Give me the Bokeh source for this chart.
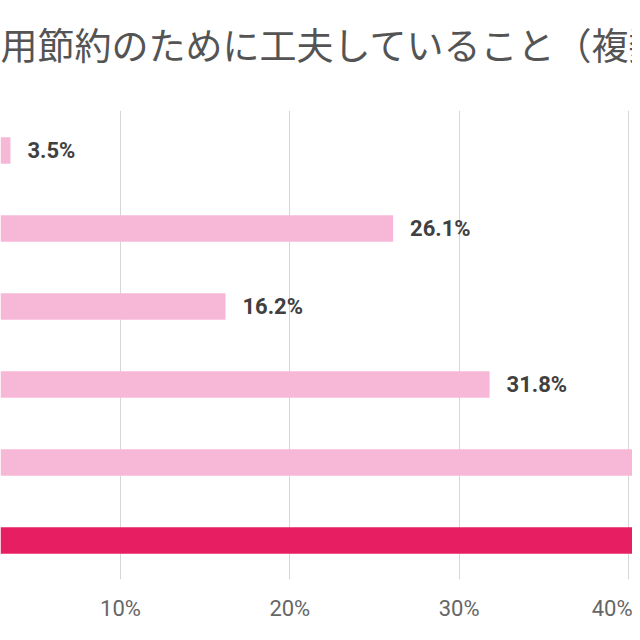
from bokeh.plotting import figure
from bokeh.models import Range1d, FixedTicker, PrintfTickFormatter, ColumnDataSource, Title
from bokeh.core.properties import value
from bokeh.embed import file_html
from bokeh.resources import INLINE

# ---- data ----
title_text = "用節約のために工夫していること（複数"
values = [3.5, 26.1, 16.2, 31.8, 44.0, 55.0]   # last two run past the visible edge
value_labels = [f"{v:.1f}%" for v in values]
positions = list(range(len(values)))             # top to bottom
highlight_index = 5
tick_values = [10, 20, 30, 40]

LIGHT = "#F7B8D8"
DARK = "#E81E62"
colors = [DARK if i == highlight_index else LIGHT for i in positions]

src = ColumnDataSource(dict(y=positions, v=values, lab=value_labels, c=colors))

NARROW = "'Liberation Sans Narrow', 'Roboto', 'Liberation Sans', sans-serif"

p = figure(width=632, height=632,
           x_range=Range1d(2.912, 40.24), y_range=Range1d(5.5, -0.513),
           output_backend="svg", toolbar_location=None,
           y_axis_location=None, title_location=None,
           min_border_top=110, min_border_bottom=53,
           min_border_left=0, min_border_right=0)
p.outline_line_color = None
p.background_fill_color = "white"
p.border_fill_color = "white"

# spacer between the title and the plot frame (nearest the frame)
p.add_layout(Title(text=" ", text_font_size="1px", standoff=35), "above")
# the chart title
p.add_layout(Title(text=title_text, text_font="Noto Sans CJK JP", text_font_size="37px",
                   text_font_style="normal", text_color="#545454", align="left",
                   vertical_align="top", offset=0, standoff=0), "above")

p.hbar(y="y", left=0, right="v", height=0.34, fill_color="c", line_color=None, source=src)
p.text(x="v", y="y", text="lab", x_offset=17, text_baseline="middle", text_align="left",
       text_font=value(NARROW),
       text_font_style="bold", text_font_size="22px", text_color="#404040", source=src)

ticker = FixedTicker(ticks=tick_values)
p.xaxis.ticker = ticker
p.xaxis.formatter = PrintfTickFormatter(format="%d%%")
p.xaxis.axis_line_color = None
p.xaxis.major_tick_line_color = None
p.xaxis.minor_tick_line_color = None
p.xaxis.major_tick_out = 0
p.xaxis.major_tick_in = 0
p.xaxis.major_label_standoff = 16
p.xaxis.major_label_text_font = NARROW
p.xaxis.major_label_text_font_size = "22px"
p.xaxis.major_label_text_color = "#666666"

p.xgrid.ticker = ticker
p.xgrid.grid_line_color = "#D6D6D6"
p.xgrid.grid_line_width = 1
p.ygrid.grid_line_color = None

open("out.html", "w").write(file_html(p, INLINE))
